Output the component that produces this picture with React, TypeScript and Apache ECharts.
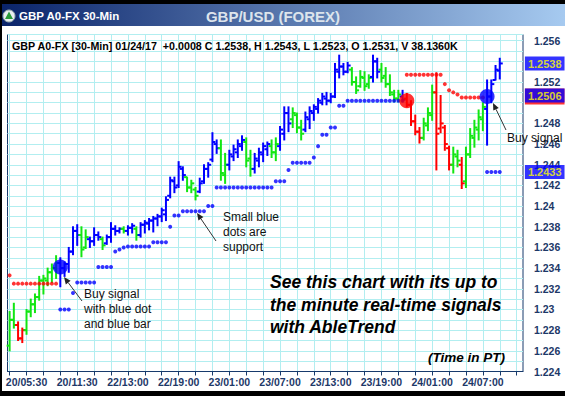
import React, { useEffect, useRef } from "react";
import * as echarts from "echarts";

// ---------- data ----------
const xTickLabels = ["20/05:30", "20/11:30", "22/13:00", "22/19:00", "23/01:00", "23/07:00", "23/13:00", "23/19:00", "24/01:00", "24/07:00"];
const xTickIndex = [4, 16, 28, 40, 52, 64, 76, 88, 100, 112];

// B = up trend (blue), G = neutral (green), R = down trend (red)
const barTrend = [
  "G", "G", "R", "R", "G", "G", "G", "G", "G", "G",
  "G", "G", "B", "B", "B", "B", "B", "G", "G", "B",
  "B", "B", "G", "B", "B", "B", "B", "G", "B", "B",
  "G", "B", "B", "B", "B", "B", "B", "B", "B", "B",
  "B", "B", "G", "G", "G", "B", "B", "B", "B", "B",
  "G", "G", "B", "B", "B", "B", "G", "G", "B", "B",
  "B", "B", "G", "G", "B", "B", "B", "G", "G", "G",
  "B", "B", "B", "B", "B", "B", "B", "B", "B", "B",
  "B", "G", "G", "G", "G", "G", "B", "B", "G", "G",
  "G", "G", "G", "B", "R", "R", "R", "R", "G", "G",
  "G", "R", "R", "R", "R", "G", "G", "R", "G", "G",
  "G", "G", "G", "B", "B", "B", "B",
];

const barOpen = [
  1.2265, 1.2290, 1.2285, 1.2272, 1.2280, 1.2298, 1.2305, 1.2312, 1.2328, 1.2328,
  1.2336, 1.2340, 1.2345, 1.2340, 1.2344, 1.2356, 1.2376, 1.2372, 1.2360, 1.2368,
  1.2366, 1.2372, 1.2368, 1.2364, 1.2370, 1.2378, 1.2376, 1.2378, 1.2376, 1.2379,
  1.2378, 1.2372, 1.2382, 1.2383, 1.2386, 1.2388, 1.2390, 1.2392, 1.2410, 1.2424,
  1.2420, 1.2436, 1.2428, 1.2418, 1.2416, 1.2414, 1.2424, 1.2436, 1.2445, 1.2460,
  1.2456, 1.2430, 1.2440, 1.2448, 1.2452, 1.2458, 1.2462, 1.2446, 1.2436, 1.2444,
  1.2450, 1.2455, 1.2458, 1.2452, 1.2458, 1.2470, 1.2490, 1.2484, 1.2488, 1.2476,
  1.2474, 1.2484, 1.2490, 1.2494, 1.2500, 1.2504, 1.2502, 1.2506, 1.2530, 1.2535,
  1.2530, 1.2532, 1.2520, 1.2516, 1.2524, 1.2518, 1.2525, 1.2540, 1.2532, 1.2526,
  1.2518, 1.2508, 1.2504, 1.2506, 1.2504, 1.2498, 1.2482, 1.2472, 1.2466, 1.2478,
  1.2488, 1.2510, 1.2475, 1.2476, 1.2456, 1.2440, 1.2448, 1.2440, 1.2424, 1.2450,
  1.2466, 1.2474, 1.2484, 1.2494, 1.2506, 1.2522, 1.2531,
];

const barClose = [
  1.2290, 1.2285, 1.2272, 1.2280, 1.2298, 1.2305, 1.2312, 1.2328, 1.2330, 1.2336,
  1.2340, 1.2345, 1.2340, 1.2344, 1.2356, 1.2376, 1.2372, 1.2358, 1.2370, 1.2366,
  1.2372, 1.2370, 1.2362, 1.2370, 1.2378, 1.2376, 1.2378, 1.2376, 1.2379, 1.2381,
  1.2372, 1.2382, 1.2384, 1.2386, 1.2388, 1.2390, 1.2396, 1.2406, 1.2425, 1.2418,
  1.2438, 1.2430, 1.2418, 1.2422, 1.2410, 1.2422, 1.2436, 1.2440, 1.2462, 1.2456,
  1.2432, 1.2440, 1.2450, 1.2455, 1.2460, 1.2464, 1.2444, 1.2436, 1.2446, 1.2452,
  1.2458, 1.2460, 1.2452, 1.2460, 1.2474, 1.2490, 1.2480, 1.2490, 1.2476, 1.2470,
  1.2486, 1.2492, 1.2496, 1.2502, 1.2506, 1.2502, 1.2506, 1.2532, 1.2535, 1.2530,
  1.2536, 1.2520, 1.2512, 1.2525, 1.2516, 1.2524, 1.2540, 1.2530, 1.2524, 1.2518,
  1.2510, 1.2504, 1.2508, 1.2503, 1.2498, 1.2482, 1.2472, 1.2466, 1.2480, 1.2490,
  1.2510, 1.2470, 1.2480, 1.2460, 1.2440, 1.2450, 1.2444, 1.2422, 1.2450, 1.2468,
  1.2476, 1.2486, 1.2496, 1.2506, 1.2518, 1.2532, 1.2538,
];

const barHigh = [
  1.2298, 1.2306, 1.2288, 1.2282, 1.2300, 1.2310, 1.2315, 1.2332, 1.2333, 1.2340,
  1.2344, 1.2352, 1.2350, 1.2346, 1.2360, 1.2380, 1.2382, 1.2380, 1.2377, 1.2370,
  1.2379, 1.2375, 1.2370, 1.2372, 1.2384, 1.2381, 1.2379, 1.2380, 1.2381, 1.2383,
  1.2380, 1.2384, 1.2386, 1.2388, 1.2390, 1.2392, 1.2398, 1.2409, 1.2428, 1.2428,
  1.2443, 1.2438, 1.2428, 1.2425, 1.2418, 1.2427, 1.2440, 1.2442, 1.2471, 1.2464,
  1.2464, 1.2451, 1.2454, 1.2459, 1.2464, 1.2468, 1.2466, 1.2454, 1.2451, 1.2456,
  1.2461, 1.2462, 1.2464, 1.2466, 1.2477, 1.2496, 1.2496, 1.2495, 1.2490, 1.2483,
  1.2491, 1.2496, 1.2498, 1.2504, 1.2509, 1.2510, 1.2509, 1.2538, 1.2546, 1.2538,
  1.2539, 1.2534, 1.2525, 1.2531, 1.2530, 1.2527, 1.2546, 1.2543, 1.2538, 1.2534,
  1.2527, 1.2512, 1.2512, 1.2512, 1.2509, 1.2502, 1.2488, 1.2476, 1.2485, 1.2495,
  1.2517, 1.2529, 1.2507, 1.2478, 1.2458, 1.2457, 1.2454, 1.2447, 1.2457, 1.2475,
  1.2483, 1.2493, 1.2500, 1.2522, 1.2522, 1.2536, 1.2543,
];

const barLow = [
  1.2260, 1.2282, 1.2270, 1.2268, 1.2276, 1.2293, 1.2297, 1.2309, 1.2315, 1.2323,
  1.2326, 1.2330, 1.2322, 1.2332, 1.2336, 1.2353, 1.2362, 1.2351, 1.2359, 1.2360,
  1.2362, 1.2367, 1.2358, 1.2363, 1.2365, 1.2372, 1.2374, 1.2374, 1.2372, 1.2374,
  1.2367, 1.2370, 1.2374, 1.2377, 1.2375, 1.2381, 1.2385, 1.2386, 1.2408, 1.2413,
  1.2418, 1.2425, 1.2414, 1.2413, 1.2406, 1.2413, 1.2422, 1.2428, 1.2443, 1.2451,
  1.2425, 1.2422, 1.2435, 1.2444, 1.2447, 1.2454, 1.2438, 1.2429, 1.2432, 1.2438,
  1.2443, 1.2449, 1.2447, 1.2444, 1.2454, 1.2464, 1.2472, 1.2476, 1.2471, 1.2464,
  1.2472, 1.2475, 1.2483, 1.2490, 1.2498, 1.2498, 1.2500, 1.2505, 1.2524, 1.2527,
  1.2529, 1.2517, 1.2509, 1.2515, 1.2512, 1.2514, 1.2520, 1.2524, 1.2520, 1.2515,
  1.2507, 1.2501, 1.2501, 1.2501, 1.2496, 1.2478, 1.2469, 1.2461, 1.2464, 1.2473,
  1.2483, 1.2435, 1.2471, 1.2454, 1.2435, 1.2432, 1.2438, 1.2417, 1.2418, 1.2447,
  1.2457, 1.2464, 1.2473, 1.2459, 1.2500, 1.2522, 1.2523,
];

// small blue support dots: [bar index, price]
const supportDots = [
  [12, 1.2300], [13, 1.2300], [14, 1.2300], [15, 1.2316],
  [16, 1.2326], [17, 1.2326], [18, 1.2326], [19, 1.2326], [20, 1.2326],
  [21, 1.2341], [22, 1.2341], [23, 1.2341], [24, 1.2341],
  [25, 1.2356], [26, 1.2358], [27, 1.2360],
  [28, 1.2361], [29, 1.2361], [30, 1.2361], [31, 1.2361], [32, 1.2361], [33, 1.2361],
  [34, 1.2365], [35, 1.2365], [36, 1.2365], [37, 1.2365],
  [38, 1.2380], [39, 1.2391], [40, 1.2391],
  [41, 1.2395], [42, 1.2395], [43, 1.2395], [44, 1.2395], [45, 1.2395], [46, 1.2395],
  [47, 1.2400], [48, 1.2400],
  [49, 1.2418], [50, 1.2418], [51, 1.2418], [52, 1.2418], [53, 1.2418], [54, 1.2418], [55, 1.2418],
  [56, 1.2418], [57, 1.2418], [58, 1.2418], [59, 1.2418], [60, 1.2418], [61, 1.2418], [62, 1.2418],
  [63, 1.2424], [64, 1.2424], [65, 1.2424],
  [66, 1.2435],
  [67, 1.2442], [68, 1.2442], [69, 1.2442], [70, 1.2442], [71, 1.2442],
  [72, 1.2447], [73, 1.2458], [74, 1.2469], [75, 1.2469], [76, 1.2476], [77, 1.2476],
  [78, 1.2497], [79, 1.2497],
  [80, 1.2502], [81, 1.2502], [82, 1.2502], [83, 1.2502], [84, 1.2502], [85, 1.2502], [86, 1.2502],
  [87, 1.2502], [88, 1.2502], [89, 1.2502], [90, 1.2502], [91, 1.2502], [92, 1.2502], [93, 1.2502],
  [113, 1.2433], [114, 1.2433], [115, 1.2433], [116, 1.2433],
];

// small red resistance dots: [bar index, price]
const resistanceDots = [
  [0, 1.2333],
  [1, 1.2325], [2, 1.2325], [3, 1.2325], [4, 1.2325], [5, 1.2325], [6, 1.2325],
  [7, 1.2325], [8, 1.2325], [9, 1.2325], [10, 1.2325], [11, 1.2325],
  [94, 1.2527], [95, 1.2527], [96, 1.2527], [97, 1.2527], [98, 1.2527], [99, 1.2527],
  [100, 1.2527], [101, 1.2527], [102, 1.2527],
  [103, 1.2518], [104, 1.2512], [105, 1.2510], [106, 1.2508],
  [107, 1.2505], [108, 1.2505], [109, 1.2505], [110, 1.2505], [111, 1.2505], [112, 1.2505],
];

const buySignals = [[12, 1.2341], [113, 1.2506]];
const sellSignals = [[94, 1.2502]];
const priceTags = [1.2538, 1.2506, 1.2433];
const headerText = "GBP A0-FX [30-Min] 01/24/17  +0.0008 C 1.2538, H 1.2543, L 1.2523, O 1.2531, V 38.1360K";

// ---------- layout / style ----------
const CATEGORY_COUNT = 122;
const NAVY = "#173a6c";
const GRID_COLOR = "#b2eef0";
const AXIS_TEXT = "#1d3868";
const FONT = "'Liberation Sans', Arial, sans-serif";
const TREND_COLORS: Record<string, string> = { B: "#0000ff", G: "#12e612", R: "#ff0000" };

const arrow = (x1: number, y1: number, x2: number, y2: number) => {
  const ang = Math.atan2(y2 - y1, x2 - x1);
  const len = 7;
  const w = 3;
  const bx = x2 - len * Math.cos(ang);
  const by = y2 - len * Math.sin(ang);
  const px = -Math.sin(ang) * w;
  const py = Math.cos(ang) * w;
  return [
    { type: "line", z: 100, shape: { x1, y1, x2: bx, y2: by }, style: { stroke: "#333", lineWidth: 1 } },
    {
      type: "polygon",
      z: 100,
      shape: { points: [[x2, y2], [bx + px, by + py], [bx - px, by - py]] },
      style: { fill: "#222" },
    },
  ];
};

export default function App() {
  const ref = useRef<HTMLDivElement>(null);

  useEffect(() => {
    if (!ref.current) return;
    const chart = echarts.init(ref.current, null, { renderer: "svg", width: 565, height: 396 });
    const categories = Array.from({ length: CATEGORY_COUNT }, (_, i) => String(i));

    const ohlc = barOpen.map((o, i) => [i, o, barClose[i], barLow[i], barHigh[i]]);

    const annText = (text: string, x: number, y: number) => ({
      type: "text",
      z: 100,
      x,
      y,
      style: { text, fill: "#111", font: `12px ${FONT}`, textVerticalAlign: "middle" },
    });
    const bigText = (text: string, x: number, y: number, size: number) => ({
      type: "text",
      z: 100,
      x,
      y,
      style: { text, fill: "#000", font: `italic bold ${size}px ${FONT}`, textVerticalAlign: "middle" },
    });

    const option: any = {
      animation: false,
      backgroundColor: "#ffffff",
      grid: {
        left: 7.5,
        top: 34.5,
        width: 515.5,
        height: 337,
        show: true,
        backgroundColor: "#ffffff",
        borderColor: NAVY,
        borderWidth: 1,
        containLabel: false,
        outerBoundsMode: "none",
      },
      xAxis: {
        type: "category",
        data: categories,
        boundaryGap: true,
        axisLine: { show: true, lineStyle: { color: NAVY, width: 1 } },
        axisTick: {
          show: true,
          alignWithLabel: true,
          interval: (i: number) => i % 4 === 0,
          length: 4,
          lineStyle: { color: NAVY },
        },
        axisLabel: {
          interval: (i: number) => xTickIndex.includes(i),
          formatter: (_v: string, i: number) => {
            const k = xTickIndex.indexOf(i);
            return k >= 0 ? xTickLabels[k] : "";
          },
          color: AXIS_TEXT,
          fontWeight: "bold",
          fontSize: 10.5,
          fontFamily: FONT,
          margin: 5,
        },
        splitLine: {
          show: true,
          alignWithLabel: true,
          interval: (i: number) => i % 4 === 0,
          lineStyle: { color: GRID_COLOR, width: 1 },
        },
      },
      yAxis: {
        type: "value",
        position: "right",
        min: 1.224,
        max: 1.2566,
        interval: 0.001,
        axisLine: { show: false },
        axisTick: { show: false },
        axisLabel: {
          margin: 11,
          color: AXIS_TEXT,
          fontWeight: "bold",
          fontSize: 10.5,
          fontFamily: FONT,
          formatter: (v: number) => {
            const k = Math.round(v * 1000);
            if (Math.abs(v * 1000 - k) > 1e-6 || k % 2 !== 0) return "";
            // hidden behind the price tags in the reference
            if (k === 1254 || k === 1250) return "";
            return String(+(k / 1000).toFixed(3));
          },
        },
        splitLine: { show: true, lineStyle: { color: GRID_COLOR, width: 1 } },
      },
      series: [
        {
          type: "custom",
          name: "bars",
          data: ohlc,
          encode: { x: 0, y: [1, 2, 3, 4] },
          z: 3,
          silent: true,
          renderItem: (params: any, api: any) => {
            const i = api.value(0);
            const pH = api.coord([i, api.value(4)]);
            const pL = api.coord([i, api.value(3)]);
            const pO = api.coord([i, api.value(1)]);
            const pC = api.coord([i, api.value(2)]);
            const color = TREND_COLORS[barTrend[params.dataIndex]];
            const x = pH[0];
            const st = { stroke: color, lineWidth: 2 };
            return {
              type: "group",
              children: [
                { type: "line", shape: { x1: x, y1: pH[1] - 0.5, x2: x, y2: pL[1] + 0.5 }, style: st },
                { type: "line", shape: { x1: x - 3, y1: pO[1], x2: x, y2: pO[1] }, style: st },
                { type: "line", shape: { x1: x, y1: pC[1], x2: x + 3, y2: pC[1] }, style: st },
              ],
            };
          },
        },
        {
          type: "scatter",
          name: "support",
          data: supportDots,
          symbol: "circle",
          symbolSize: 4,
          itemStyle: { color: "#0000ff" },
          z: 4,
          silent: true,
        },
        {
          type: "scatter",
          name: "resistance",
          data: resistanceDots,
          symbol: "circle",
          symbolSize: 4,
          itemStyle: { color: "#ff0000" },
          z: 4,
          silent: true,
        },
        {
          type: "scatter",
          name: "buy",
          data: buySignals,
          symbol: "circle",
          symbolSize: 15,
          itemStyle: { color: "#0000ff" },
          z: 5,
          silent: true,
        },
        {
          type: "scatter",
          name: "sell",
          data: sellSignals,
          symbol: "circle",
          symbolSize: 15,
          itemStyle: { color: "#ff0000" },
          z: 5,
          silent: true,
        },
        {
          // price tags on the right-hand scale
          type: "scatter",
          name: "tags",
          clip: false,
          silent: true,
          z: 10,
          symbolSize: 1,
          itemStyle: { color: "rgba(0,0,0,0)" },
          data: priceTags.map((v) => ({
            value: [CATEGORY_COUNT - 1, v],
            label: {
              show: true,
              position: "right",
              distance: 3.5,
              formatter: `{t|${v.toFixed(4)}}`,
              backgroundColor: v === 1.2506 ? "#ff0000" : "transparent",
              padding: v === 1.2506 ? [0, 0, 2, 0] : 0,
              rich: {
                t: {
                  backgroundColor: "#0000ff",
                  color: "#ffff00",
                  fontWeight: "bold",
                  fontSize: 11,
                  fontFamily: FONT,
                  padding: [2, 3, 1, 3],
                },
              },
            },
          })),
        },
      ],
      graphic: [
        // window frame
        { type: "rect", z: 0, shape: { x: 0, y: 0, width: 565, height: 4 }, style: { fill: "#000" } },
        { type: "rect", z: 0, shape: { x: 0, y: 0, width: 2, height: 396 }, style: { fill: "#000" } },
        { type: "rect", z: 0, shape: { x: 0, y: 391, width: 565, height: 5 }, style: { fill: "#000" } },
        {
          type: "rect",
          z: 1,
          shape: { x: 2, y: 4, width: 563, height: 22 },
          style: {
            fill: new echarts.graphic.LinearGradient(0, 0, 1, 0, [
              { offset: 0, color: "#0a246a" },
              { offset: 1, color: "#a6caf0" },
            ]),
          },
        },
        // icon
        { type: "circle", z: 2, shape: { cx: 9, cy: 16, r: 6 }, style: { fill: "#e8eef0", stroke: "#9aa", lineWidth: 1 } },
        { type: "polygon", z: 3, shape: { points: [[9, 11.5], [5, 19], [13, 19]] }, style: { fill: "#2a9a3a" } },
        {
          type: "text",
          z: 3,
          x: 19,
          y: 16,
          style: { text: "GBP A0-FX 30-Min", fill: "#ffffff", font: `bold 11.5px ${FONT}`, textVerticalAlign: "middle" },
        },
        {
          type: "text",
          z: 3,
          x: 273,
          y: 16,
          style: {
            text: "GBP/USD (FOREX)",
            fill: "#dde4ec",
            font: `bold 15px ${FONT}`,
            textAlign: "center",
            textVerticalAlign: "middle",
          },
        },
        // title buttons
        ...[519, 535, 551].map((bx, k) => ({
          type: "group",
          z: 3,
          children: [
            { type: "rect", shape: { x: bx, y: 9, width: 15, height: 13 }, style: { fill: "#d4d0c8", stroke: "#404040", lineWidth: 1 } },
            {
              type: "text",
              x: bx + 7.5,
              y: 15.5,
              style: {
                text: ["_", "□", "✕"][k],
                fill: "#000",
                font: `bold 11px ${FONT}`,
                textAlign: "center",
                textVerticalAlign: "middle",
              },
            },
          ],
        })),
        // header line inside the plot
        {
          type: "text",
          z: 100,
          x: 12,
          y: 46,
          style: { text: headerText, fill: "#000", font: `bold 10.7px ${FONT}`, textVerticalAlign: "middle" },
        },
        // annotations
        annText("Buy signal", 84, 294),
        annText("with blue dot", 84, 309),
        annText("and blue bar", 84, 324),
        ...arrow(82, 301, 64, 277),
        annText("Small blue", 223, 217),
        annText("dots are", 223, 232),
        annText("support", 223, 247),
        ...arrow(216, 241, 197, 213),
        annText("Buy signal", 507, 138),
        ...arrow(506, 130, 493, 103),
        bigText("See this chart with its up to", 270, 282, 17.5),
        bigText("the minute real-time signals", 270, 305, 17.5),
        bigText("with AbleTrend", 270, 327, 17.5),
        bigText("(Time in PT)", 428, 357, 13.5),
      ],
    };

    chart.setOption(option);
    return () => chart.dispose();
  }, []);

  return (
    <div
      ref={ref}
      style={{ position: "fixed", left: 0, top: 0, width: 565, height: 396, background: "#ffffff" }}
    />
  );
}
